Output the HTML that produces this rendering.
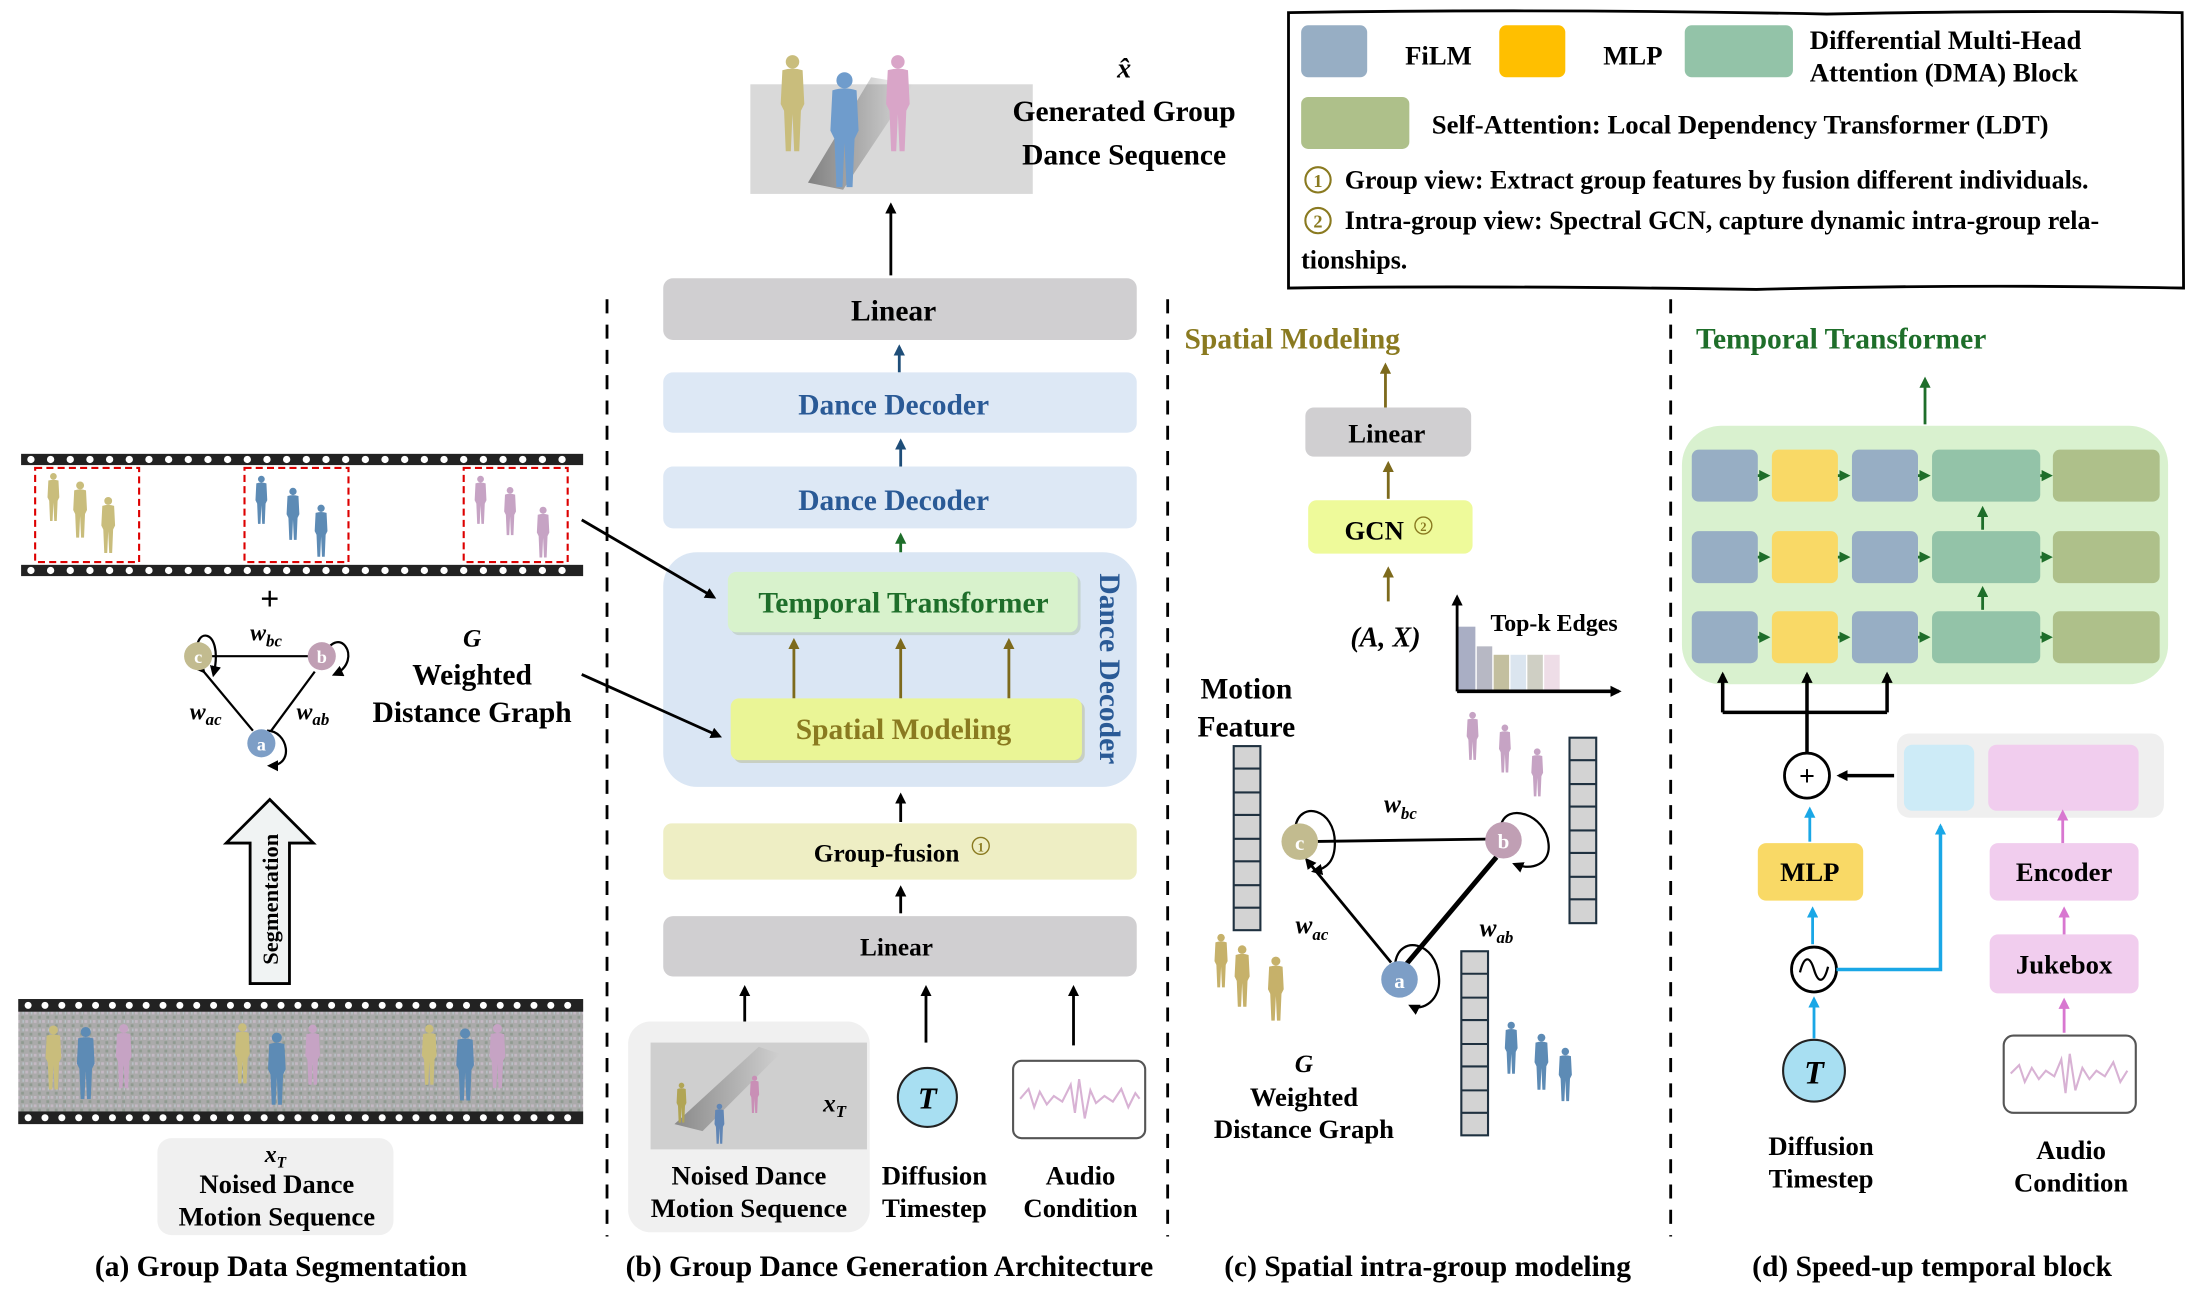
<!DOCTYPE html>
<html><head><meta charset="utf-8"><style>
html,body{margin:0;padding:0;background:#fff;}
svg{display:block;}
text{font-family:"Liberation Serif",serif;font-weight:bold;}
</style></head><body>
<svg width="2192" height="1292" viewBox="0 0 1560 919.5" xmlns="http://www.w3.org/2000/svg">
<defs>
<marker id="ak" markerWidth="8" markerHeight="8" refX="6" refY="4" orient="auto" markerUnits="userSpaceOnUse"><path d="M0,0 L8,4 L0,8 z" fill="#000"/></marker>
<marker id="ab" markerWidth="8" markerHeight="8" refX="6" refY="4" orient="auto" markerUnits="userSpaceOnUse"><path d="M0,0 L8,4 L0,8 z" fill="#1f4e79"/></marker>
<marker id="ag" markerWidth="8" markerHeight="8" refX="6" refY="4" orient="auto" markerUnits="userSpaceOnUse"><path d="M0,0 L8,4 L0,8 z" fill="#1e6e2a"/></marker>
<marker id="ao" markerWidth="8" markerHeight="8" refX="6" refY="4" orient="auto" markerUnits="userSpaceOnUse"><path d="M0,0 L8,4 L0,8 z" fill="#7d6a1c"/></marker>
<marker id="ac" markerWidth="8" markerHeight="8" refX="6" refY="4" orient="auto" markerUnits="userSpaceOnUse"><path d="M0,0 L8,4 L0,8 z" fill="#1aa7e6"/></marker>
<marker id="ap" markerWidth="8" markerHeight="8" refX="6" refY="4" orient="auto" markerUnits="userSpaceOnUse"><path d="M0,0 L8,4 L0,8 z" fill="#d877d0"/></marker>
<symbol id="fig" viewBox="0 0 20 60" overflow="visible">
<circle cx="10" cy="5" r="4"/><path d="M4,10 Q10,8 16,10 L17,30 L15,34 L14,58 L11,58 L10,36 L9,58 L6,58 L5,34 L3,30 z"/>
</symbol>
<pattern id="noise" width="6" height="6" patternUnits="userSpaceOnUse"><rect width="6" height="6" fill="#aaa"/><rect x="0" y="0" width="2" height="2" fill="#c4b9c4"/><rect x="3" y="3" width="2" height="2" fill="#8f9a90"/><rect x="4" y="0" width="1" height="2" fill="#b9c4c9"/></pattern>
<linearGradient id="sh" x1="0" y1="0" x2="1" y2="0"><stop offset="0" stop-color="#222" stop-opacity="0.8"/><stop offset="1" stop-color="#222" stop-opacity="0"/></linearGradient>
</defs>

<!-- Legend -->
<path d="M917,9 Q1100,6 1300,10 Q1450,7 1553,9 L1554,205 Q1400,202 1250,206 Q1050,203 917,205 z" fill="#fff" stroke="#000" stroke-width="2"/>
<rect x="926" y="18" width="47" height="37" rx="5" fill="#97aec4"/>
<text x="1000" y="46" font-size="19">FiLM</text>
<rect x="1067" y="18" width="47" height="37" rx="5" fill="#ffbf00"/>
<text x="1141" y="46" font-size="19">MLP</text>
<rect x="1199" y="18" width="77" height="37" rx="5" fill="#93c3a8"/>
<text x="1288" y="35" font-size="19">Differential Multi-Head</text>
<text x="1288" y="58" font-size="19">Attention (DMA) Block</text>
<rect x="926" y="69" width="77" height="37" rx="5" fill="#aec08a"/>
<text x="1019" y="95" font-size="19">Self-Attention: Local Dependency Transformer (LDT)</text>
<circle cx="938" cy="128" r="9" fill="none" stroke="#8a7a20" stroke-width="1.5"/><text x="938" y="133" font-size="13" fill="#8a7a20" text-anchor="middle" font-weight="normal">1</text>
<text x="957" y="134" font-size="18.5">Group view: Extract group features by fusion different individuals.</text>
<circle cx="938" cy="157" r="9" fill="none" stroke="#8a7a20" stroke-width="1.5"/><text x="938" y="162" font-size="13" fill="#8a7a20" text-anchor="middle" font-weight="normal">2</text>
<text x="957" y="163" font-size="18.5">Intra-group view: Spectral GCN, capture dynamic intra-group rela-</text>
<text x="926" y="191" font-size="18.5">tionships.</text>

<!-- dashed separators -->
<g stroke="#000" stroke-width="2" stroke-dasharray="10,8">
<line x1="432" y1="213" x2="432" y2="880"/>
<line x1="831" y1="213" x2="831" y2="880"/>
<line x1="1189" y1="213" x2="1189" y2="880"/>
</g>

<!-- captions -->
<g font-size="21" text-anchor="middle">
<text x="200" y="908">(a) Group Data Segmentation</text>
<text x="633" y="908">(b) Group Dance Generation Architecture</text>
<text x="1016" y="908">(c) Spatial intra-group modeling</text>
<text x="1375" y="908">(d) Speed-up temporal block</text>
</g>

<!-- ===== Panel (a) ===== -->
<rect x="15" y="323" width="400" height="8" fill="#222"/>
<rect x="15" y="402" width="400" height="8" fill="#222"/>
<g fill="#fff">
<g id="dots1">
<circle cx="22" cy="327" r="2.6"/><circle cx="36" cy="327" r="2.6"/><circle cx="50" cy="327" r="2.6"/><circle cx="64" cy="327" r="2.6"/><circle cx="78" cy="327" r="2.6"/><circle cx="92" cy="327" r="2.6"/><circle cx="106" cy="327" r="2.6"/><circle cx="120" cy="327" r="2.6"/><circle cx="134" cy="327" r="2.6"/><circle cx="148" cy="327" r="2.6"/><circle cx="162" cy="327" r="2.6"/><circle cx="176" cy="327" r="2.6"/><circle cx="190" cy="327" r="2.6"/><circle cx="204" cy="327" r="2.6"/><circle cx="218" cy="327" r="2.6"/><circle cx="232" cy="327" r="2.6"/><circle cx="246" cy="327" r="2.6"/><circle cx="260" cy="327" r="2.6"/><circle cx="274" cy="327" r="2.6"/><circle cx="288" cy="327" r="2.6"/><circle cx="302" cy="327" r="2.6"/><circle cx="316" cy="327" r="2.6"/><circle cx="330" cy="327" r="2.6"/><circle cx="344" cy="327" r="2.6"/><circle cx="358" cy="327" r="2.6"/><circle cx="372" cy="327" r="2.6"/><circle cx="386" cy="327" r="2.6"/><circle cx="400" cy="327" r="2.6"/>
</g>
<use href="#dots1" y="79"/>
</g>
<g fill="none" stroke="#d00" stroke-width="1.5" stroke-dasharray="5,3">
<rect x="25" y="333" width="74" height="67"/><rect x="174" y="333" width="74" height="67"/><rect x="330" y="333" width="74" height="67"/>
</g>
<g fill="#c9bd7c"><use href="#fig" x="32" y="336" width="12" height="36"/><use href="#fig" x="50" y="342" width="14" height="42"/><use href="#fig" x="70" y="352" width="14" height="44"/></g>
<g fill="#5d8bb5"><use href="#fig" x="180" y="336" width="12" height="40"/><use href="#fig" x="202" y="346" width="13" height="40"/><use href="#fig" x="222" y="358" width="13" height="40"/></g>
<g fill="#c6a3c4"><use href="#fig" x="336" y="338" width="12" height="36"/><use href="#fig" x="357" y="346" width="12" height="36"/><use href="#fig" x="380" y="360" width="13" height="38"/></g>
<text x="192" y="434" font-size="24" text-anchor="middle">+</text>
<!-- graph a -->
<g stroke="#000" stroke-width="1.6" fill="none">
<line x1="141" y1="467" x2="229" y2="467"/>
<line x1="145" y1="478" x2="180" y2="520" marker-start="url(#ak)"/>
<line x1="224" y1="478" x2="193" y2="520"/>
<path d="M141,470 C135,445 160,445 152,480" marker-end="url(#ak)"/>
<path d="M229,470 C240,440 260,470 238,480" marker-end="url(#ak)"/>
<path d="M190,520 C205,520 210,545 192,545" marker-end="url(#ak)"/>
</g>
<circle cx="141" cy="467" r="10" fill="#c2bb8f"/><text x="141" y="472" font-size="13" fill="#fff" text-anchor="middle" font-family="Liberation Sans">c</text>
<circle cx="229" cy="467" r="10" fill="#c09fb4"/><text x="229" y="472" font-size="13" fill="#fff" text-anchor="middle" font-family="Liberation Sans">b</text>
<circle cx="186" cy="529" r="10" fill="#7d9ec6"/><text x="186" y="534" font-size="13" fill="#fff" text-anchor="middle" font-family="Liberation Sans">a</text>
<g font-style="italic" font-weight="normal" font-size="17">
<text x="178" y="456">w<tspan font-size="12" dy="4">bc</tspan></text>
<text x="135" y="512">w<tspan font-size="12" dy="4">ac</tspan></text>
<text x="211" y="512">w<tspan font-size="12" dy="4">ab</tspan></text>
</g>
<text x="336" y="460" font-size="18" font-style="italic" font-weight="normal" text-anchor="middle">G</text>
<text x="336" y="487" font-size="21" text-anchor="middle">Weighted</text>
<text x="336" y="514" font-size="21" text-anchor="middle">Distance Graph</text>
<!-- segmentation arrow -->
<path d="M178,700 L178,600 L161,600 L192,569 L223,600 L206,600 L206,700 z" fill="#f0f3f3" stroke="#000" stroke-width="2"/>
<text transform="translate(198,640) rotate(-90)" font-size="16" text-anchor="middle">Segmentation</text>
<!-- bottom film -->
<rect x="13" y="711" width="402" height="89" fill="url(#noise)"/>
<rect x="13" y="711" width="402" height="9" fill="#222"/>
<rect x="13" y="791" width="402" height="9" fill="#222"/>
<g fill="#fff"><g id="dots2"><circle cx="20" cy="715.5" r="2.5"/><circle cx="32" cy="715.5" r="2.5"/><circle cx="44" cy="715.5" r="2.5"/><circle cx="56" cy="715.5" r="2.5"/><circle cx="68" cy="715.5" r="2.5"/><circle cx="80" cy="715.5" r="2.5"/><circle cx="92" cy="715.5" r="2.5"/><circle cx="104" cy="715.5" r="2.5"/><circle cx="116" cy="715.5" r="2.5"/><circle cx="128" cy="715.5" r="2.5"/><circle cx="140" cy="715.5" r="2.5"/><circle cx="152" cy="715.5" r="2.5"/><circle cx="164" cy="715.5" r="2.5"/><circle cx="176" cy="715.5" r="2.5"/><circle cx="188" cy="715.5" r="2.5"/><circle cx="200" cy="715.5" r="2.5"/><circle cx="212" cy="715.5" r="2.5"/><circle cx="224" cy="715.5" r="2.5"/><circle cx="236" cy="715.5" r="2.5"/><circle cx="248" cy="715.5" r="2.5"/><circle cx="260" cy="715.5" r="2.5"/><circle cx="272" cy="715.5" r="2.5"/><circle cx="284" cy="715.5" r="2.5"/><circle cx="296" cy="715.5" r="2.5"/><circle cx="308" cy="715.5" r="2.5"/><circle cx="320" cy="715.5" r="2.5"/><circle cx="332" cy="715.5" r="2.5"/><circle cx="344" cy="715.5" r="2.5"/><circle cx="356" cy="715.5" r="2.5"/><circle cx="368" cy="715.5" r="2.5"/><circle cx="380" cy="715.5" r="2.5"/><circle cx="392" cy="715.5" r="2.5"/><circle cx="404" cy="715.5" r="2.5"/></g><use href="#dots2" y="80"/></g>
<g fill="#c9bd7c"><use href="#fig" x="30" y="722" width="16" height="62"/><use href="#fig" x="165" y="724" width="15" height="52"/><use href="#fig" x="298" y="722" width="15" height="58"/></g>
<g fill="#5d8bb5"><use href="#fig" x="52" y="726" width="18" height="62"/><use href="#fig" x="188" y="732" width="18" height="58"/><use href="#fig" x="322" y="728" width="18" height="60"/></g>
<g fill="#c6a3c4"><use href="#fig" x="80" y="724" width="16" height="56"/><use href="#fig" x="215" y="726" width="15" height="50"/><use href="#fig" x="346" y="724" width="16" height="56"/></g>
<rect x="112" y="810" width="168" height="69" rx="10" fill="#f0f0f0"/>
<text x="196" y="827" font-size="17" font-style="italic" font-weight="normal" text-anchor="middle">x<tspan font-size="11" dy="4">T</tspan></text>
<text x="197" y="849" font-size="19" text-anchor="middle">Noised Dance</text>
<text x="197" y="872" font-size="19" text-anchor="middle">Motion Sequence</text>

<!-- ===== Panel (b) ===== -->
<rect x="534" y="60" width="201" height="78" fill="#d9d9d9"/>
<path d="M575,130 L620,55 L650,60 L600,135 z" fill="url(#sh)" opacity="0.6"/>
<g fill="#c9bd7c"><use href="#fig" x="550" y="38" width="28" height="72"/></g>
<g fill="#6f9ccc"><use href="#fig" x="585" y="50" width="32" height="86"/></g>
<g fill="#d9a5c8"><use href="#fig" x="625" y="38" width="28" height="72"/></g>
<text x="800" y="55" font-size="20" font-style="italic" font-weight="normal" text-anchor="middle">x̂</text>
<text x="800" y="86" font-size="21" text-anchor="middle">Generated Group</text>
<text x="800" y="117" font-size="21" text-anchor="middle">Dance Sequence</text>
<line x1="634" y1="196" x2="634" y2="146" stroke="#000" stroke-width="2" marker-end="url(#ak)"/>
<rect x="472" y="198" width="337" height="44" rx="7" fill="#d0cfd1"/>
<text x="636" y="228" font-size="21" text-anchor="middle">Linear</text>
<line x1="640" y1="265" x2="640" y2="247" stroke="#1f4e79" stroke-width="2" marker-end="url(#ab)"/>
<rect x="472" y="265" width="337" height="43" rx="7" fill="#dde8f5"/>
<text x="636" y="295" font-size="21" fill="#2a5a96" text-anchor="middle">Dance Decoder</text>
<line x1="641" y1="332" x2="641" y2="314" stroke="#1f4e79" stroke-width="2" marker-end="url(#ab)"/>
<rect x="472" y="332" width="337" height="44" rx="7" fill="#dde8f5"/>
<text x="636" y="363" font-size="21" fill="#2a5a96" text-anchor="middle">Dance Decoder</text>
<line x1="641" y1="395" x2="641" y2="381" stroke="#1e6e2a" stroke-width="2" marker-end="url(#ag)"/>
<rect x="472" y="393" width="337" height="167" rx="24" fill="#dae6f4"/>
<text transform="translate(783,476) rotate(90)" font-size="21" fill="#2a5a96" text-anchor="middle">Dance Decoder</text>
<rect x="520" y="409" width="249" height="43" rx="6" fill="#b8c8b8" opacity="0.6"/>
<rect x="518" y="407" width="249" height="43" rx="6" fill="#d8f2cc"/>
<text x="643" y="436" font-size="21" fill="#1e6e2a" text-anchor="middle">Temporal Transformer</text>
<g stroke="#7d6a1c" stroke-width="2"><line x1="565" y1="497" x2="565" y2="456" marker-end="url(#ao)"/><line x1="641" y1="497" x2="641" y2="456" marker-end="url(#ao)"/><line x1="718" y1="497" x2="718" y2="456" marker-end="url(#ao)"/></g>
<rect x="522" y="499" width="250" height="44" rx="6" fill="#bcc0a0" opacity="0.6"/>
<rect x="520" y="497" width="250" height="44" rx="6" fill="#eaf596"/>
<text x="643" y="526" font-size="21" fill="#8a7a20" text-anchor="middle">Spatial Modeling</text>
<line x1="641" y1="585" x2="641" y2="566" stroke="#000" stroke-width="2" marker-end="url(#ak)"/>
<rect x="472" y="586" width="337" height="40" rx="6" fill="#eeeec4"/>
<text x="631" y="613" font-size="18" text-anchor="middle">Group-fusion</text>
<circle cx="698" cy="602" r="6" fill="none" stroke="#8a7a20" stroke-width="1"/><text x="698" y="606" font-size="9" fill="#8a7a20" text-anchor="middle" font-weight="normal">1</text>
<line x1="641" y1="650" x2="641" y2="632" stroke="#000" stroke-width="2" marker-end="url(#ak)"/>
<rect x="472" y="652" width="337" height="43" rx="7" fill="#d0cfd1"/>
<text x="638" y="680" font-size="18" text-anchor="middle">Linear</text>
<g stroke="#000" stroke-width="2"><line x1="530" y1="740" x2="530" y2="703" marker-end="url(#ak)"/><line x1="659" y1="742" x2="659" y2="703" marker-end="url(#ak)"/><line x1="764" y1="744" x2="764" y2="703" marker-end="url(#ak)"/></g>
<rect x="447" y="727" width="172" height="150" rx="16" fill="#f0f0f0"/>
<rect x="463" y="742" width="154" height="76" fill="#cfcfcf"/>
<path d="M480,800 L540,745 L555,750 L500,805 z" fill="url(#sh)" opacity="0.5"/>
<g fill="#b1a555"><use href="#fig" x="478" y="770" width="14" height="30"/></g>
<g fill="#6186b5"><use href="#fig" x="505" y="785" width="14" height="30"/></g>
<g fill="#c98fb6"><use href="#fig" x="530" y="765" width="14" height="28"/></g>
<text x="594" y="791" font-size="18" font-style="italic" font-weight="normal" text-anchor="middle">x<tspan font-size="12" dy="4">T</tspan></text>
<circle cx="660" cy="781" r="21" fill="#a8dff2" stroke="#222" stroke-width="1.5"/>
<text x="660" y="789" font-size="22" font-style="italic" font-weight="normal" text-anchor="middle">T</text>
<rect x="721" y="755" width="94" height="55" rx="6" fill="#fff" stroke="#555" stroke-width="1.5"/>
<path d="M726,782 L732,775 L736,788 L740,777 L745,786 L750,780 L756,784 L762,772 L765,792 L768,768 L772,796 L776,776 L780,785 L786,780 L792,784 L798,775 L803,788 L808,778 L811,782" fill="none" stroke="#d8b2d4" stroke-width="1.5"/>
<g font-size="19" text-anchor="middle">
<text x="533" y="843">Noised Dance</text><text x="533" y="866">Motion Sequence</text>
<text x="665" y="843">Diffusion</text><text x="665" y="866">Timestep</text>
<text x="769" y="843">Audio</text><text x="769" y="866">Condition</text>
</g>
<g stroke="#000" stroke-width="2"><line x1="414" y1="370" x2="508" y2="425" marker-end="url(#ak)"/><line x1="414" y1="480" x2="512" y2="524" marker-end="url(#ak)"/></g>

<!-- ===== Panel (c) ===== -->
<text x="843" y="248" font-size="21" fill="#8a7a20">Spatial Modeling</text>
<g stroke="#7d6a1c" stroke-width="2">
<line x1="986" y1="290" x2="986" y2="260" marker-end="url(#ao)"/>
<line x1="988" y1="355" x2="988" y2="330" marker-end="url(#ao)"/>
<line x1="988" y1="428" x2="988" y2="405" marker-end="url(#ao)"/>
</g>
<rect x="929" y="290" width="118" height="35" rx="6" fill="#d0cfd1"/>
<text x="987" y="315" font-size="19" text-anchor="middle">Linear</text>
<rect x="931" y="356" width="117" height="38" rx="6" fill="#eefa9a"/>
<text x="978" y="384" font-size="19" text-anchor="middle">GCN</text>
<circle cx="1013" cy="374" r="6" fill="none" stroke="#8a7a20" stroke-width="1"/><text x="1013" y="378" font-size="9" fill="#8a7a20" text-anchor="middle" font-weight="normal">2</text>
<text x="986" y="460" font-size="20" font-style="italic" font-weight="normal" text-anchor="middle">(A, X)</text>
<rect x="1038" y="446" width="12" height="46" fill="#a9aec4"/>
<rect x="1051" y="460" width="11" height="32" fill="#b7b8c4"/>
<rect x="1063" y="466" width="11" height="26" fill="#c3bf9f"/>
<rect x="1075" y="466" width="11" height="26" fill="#dbe5ef"/>
<rect x="1087" y="466" width="11" height="26" fill="#cfcfc4"/>
<rect x="1099" y="466" width="11" height="26" fill="#eedde7"/>
<path d="M1037,492 L1037,425" stroke="#000" stroke-width="2" marker-end="url(#ak)"/>
<path d="M1037,492 L1152,492" stroke="#000" stroke-width="2.5" marker-end="url(#ak)"/>
<text x="1106" y="449" font-size="17" text-anchor="middle">Top-k Edges</text>
<text x="887" y="497" font-size="21" text-anchor="middle">Motion</text>
<text x="887" y="524" font-size="21" text-anchor="middle">Feature</text>
<g fill="#d3d3d3" stroke="#1f3140" stroke-width="1.5">
<rect x="878" y="531" width="19" height="131"/>
<rect x="1117" y="525" width="19" height="132"/>
<rect x="1040" y="677" width="19" height="131"/>
</g>
<g stroke="#1f3140" stroke-width="1.5">
<line x1="878" y1="547" x2="897" y2="547"/><line x1="878" y1="564" x2="897" y2="564"/><line x1="878" y1="580" x2="897" y2="580"/><line x1="878" y1="597" x2="897" y2="597"/><line x1="878" y1="613" x2="897" y2="613"/><line x1="878" y1="630" x2="897" y2="630"/><line x1="878" y1="646" x2="897" y2="646"/>
<line x1="1117" y1="541" x2="1136" y2="541"/><line x1="1117" y1="558" x2="1136" y2="558"/><line x1="1117" y1="574" x2="1136" y2="574"/><line x1="1117" y1="591" x2="1136" y2="591"/><line x1="1117" y1="607" x2="1136" y2="607"/><line x1="1117" y1="624" x2="1136" y2="624"/><line x1="1117" y1="640" x2="1136" y2="640"/>
<line x1="1040" y1="693" x2="1059" y2="693"/><line x1="1040" y1="710" x2="1059" y2="710"/><line x1="1040" y1="726" x2="1059" y2="726"/><line x1="1040" y1="743" x2="1059" y2="743"/><line x1="1040" y1="759" x2="1059" y2="759"/><line x1="1040" y1="776" x2="1059" y2="776"/><line x1="1040" y1="792" x2="1059" y2="792"/>
</g>
<g stroke="#000" fill="none">
<line x1="925" y1="599" x2="1070" y2="597" stroke-width="2"/>
<line x1="990" y1="685" x2="930" y2="612" stroke-width="2" marker-end="url(#ak)"/>
<line x1="1001" y1="686" x2="1065" y2="610" stroke-width="3.5"/>
<path d="M922,588 C925,570 950,575 950,600 C950,612 945,618 935,620" stroke-width="1.6" marker-end="url(#ak)"/>
<path d="M1068,588 C1072,570 1100,580 1102,600 C1104,615 1090,620 1078,615" stroke-width="1.6" marker-end="url(#ak)"/>
<path d="M993,685 C996,665 1022,670 1024,695 C1026,712 1012,720 1004,716" stroke-width="1.6" marker-end="url(#ak)"/>
</g>
<circle cx="925" cy="599" r="13" fill="#c2bb8f"/><text x="925" y="605" font-size="15" fill="#fff" text-anchor="middle" font-family="Liberation Sans" font-weight="normal">c</text>
<circle cx="1070" cy="598" r="13" fill="#c09fb4"/><text x="1070" y="604" font-size="15" fill="#fff" text-anchor="middle" font-family="Liberation Sans" font-weight="normal">b</text>
<circle cx="996" cy="697" r="13" fill="#7d9ec6"/><text x="996" y="703" font-size="15" fill="#fff" text-anchor="middle" font-family="Liberation Sans" font-weight="normal">a</text>
<g font-style="italic" font-size="18">
<text x="985" y="578">w<tspan font-size="12" dy="5">bc</tspan></text>
<text x="922" y="664">w<tspan font-size="12" dy="5">ac</tspan></text>
<text x="1053" y="666">w<tspan font-size="12" dy="5">ab</tspan></text>
</g>
<g fill="#c6b16a"><use href="#fig" x="862" y="664" width="14" height="40"/><use href="#fig" x="876" y="672" width="16" height="46"/><use href="#fig" x="900" y="680" width="16" height="48"/></g>
<g fill="#c6a3c4"><use href="#fig" x="1042" y="505" width="12" height="38"/><use href="#fig" x="1065" y="512" width="12" height="42"/><use href="#fig" x="1088" y="530" width="12" height="40"/></g>
<g fill="#5d8bb5"><use href="#fig" x="1069" y="725" width="13" height="42"/><use href="#fig" x="1090" y="735" width="14" height="42"/><use href="#fig" x="1107" y="745" width="14" height="40"/></g>
<text x="928" y="763" font-size="18" font-style="italic" font-weight="normal" text-anchor="middle">G</text>
<text x="928" y="787" font-size="19" text-anchor="middle">Weighted</text>
<text x="928" y="810" font-size="19" text-anchor="middle">Distance Graph</text>

<!-- ===== Panel (d) ===== -->
<text x="1207" y="248" font-size="21" fill="#1e6e2a">Temporal Transformer</text>
<line x1="1370" y1="302" x2="1370" y2="270" stroke="#1e6e2a" stroke-width="2" marker-end="url(#ag)"/>
<rect x="1197" y="303" width="346" height="184" rx="28" fill="#d9f1cf"/>
<g id="row">
<rect x="1204" y="320" width="47" height="37" rx="5" fill="#97aec4"/>
<rect x="1261" y="320" width="47" height="37" rx="5" fill="#f9d966"/>
<rect x="1318" y="320" width="47" height="37" rx="5" fill="#97aec4"/>
<rect x="1375" y="320" width="77" height="37" rx="5" fill="#93c3a8"/>
<rect x="1461" y="320" width="76" height="37" rx="5" fill="#aec08a"/>
<g stroke="#1e6e2a" stroke-width="2"><line x1="1251" y1="338.5" x2="1258" y2="338.5" marker-end="url(#ag)"/><line x1="1308" y1="338.5" x2="1315" y2="338.5" marker-end="url(#ag)"/><line x1="1365" y1="338.5" x2="1372" y2="338.5" marker-end="url(#ag)"/><line x1="1452" y1="338.5" x2="1459" y2="338.5" marker-end="url(#ag)"/></g>
</g>
<use href="#row" y="58"/>
<use href="#row" y="115"/>
<g stroke="#1e6e2a" stroke-width="2"><line x1="1411" y1="377" x2="1411" y2="362" marker-end="url(#ag)"/><line x1="1411" y1="434" x2="1411" y2="419" marker-end="url(#ag)"/></g>
<g stroke="#000" stroke-width="2.5" fill="none">
<path d="M1226,507 L1343,507"/>
<line x1="1226" y1="507" x2="1226" y2="480" marker-end="url(#ak)"/>
<line x1="1286" y1="536" x2="1286" y2="480" marker-end="url(#ak)"/>
<line x1="1343" y1="507" x2="1343" y2="480" marker-end="url(#ak)"/>
<line x1="1348" y1="552" x2="1309" y2="552" marker-end="url(#ak)"/>
</g>
<circle cx="1286" cy="552" r="16" fill="#fff" stroke="#000" stroke-width="2"/>
<text x="1286" y="559" font-size="20" text-anchor="middle" font-weight="normal">+</text>
<rect x="1350" y="522" width="190" height="60" rx="9" fill="#efefef"/>
<rect x="1355" y="530" width="50" height="47" rx="6" fill="#cdebf7"/>
<rect x="1415" y="530" width="107" height="47" rx="6" fill="#f1cdee"/>
<rect x="1251" y="600" width="75" height="41" rx="6" fill="#f9d966"/>
<text x="1288" y="627" font-size="19" text-anchor="middle">MLP</text>
<rect x="1416" y="600" width="106" height="41" rx="6" fill="#f1cdee"/>
<text x="1469" y="627" font-size="19" text-anchor="middle">Encoder</text>
<rect x="1416" y="665" width="106" height="42" rx="6" fill="#f1cdee"/>
<text x="1469" y="693" font-size="19" text-anchor="middle">Jukebox</text>
<circle cx="1291" cy="690" r="16" fill="#fff" stroke="#000" stroke-width="2"/>
<path d="M1281,692 C1284,680 1288,680 1291,690 C1294,700 1298,700 1301,688" fill="none" stroke="#000" stroke-width="1.6"/>
<circle cx="1291" cy="762" r="22" fill="#a8dff2" stroke="#222" stroke-width="1.5"/>
<text x="1291" y="771" font-size="23" font-style="italic" font-weight="normal" text-anchor="middle">T</text>
<rect x="1426" y="737" width="94" height="55" rx="7" fill="#fff" stroke="#555" stroke-width="1.5"/>
<path d="M1431,764 L1437,758 L1441,770 L1446,760 L1451,768 L1456,762 L1462,766 L1467,754 L1470,778 L1473,750 L1477,776 L1482,760 L1487,768 L1492,762 L1498,766 L1504,756 L1509,770 L1514,762" fill="none" stroke="#d8b2d4" stroke-width="1.5"/>
<g stroke="#1aa7e6" stroke-width="2" fill="none">
<line x1="1288" y1="599" x2="1288" y2="576" marker-end="url(#ac)"/>
<line x1="1290" y1="672" x2="1290" y2="647" marker-end="url(#ac)"/>
<line x1="1291" y1="739" x2="1291" y2="711" marker-end="url(#ac)"/>
<path d="M1307,690 L1381,690 L1381,588" stroke-width="2.5" marker-end="url(#ac)"/>
</g>
<g stroke="#d877d0" stroke-width="2">
<line x1="1468" y1="600" x2="1468" y2="578" marker-end="url(#ap)"/>
<line x1="1469" y1="665" x2="1469" y2="647" marker-end="url(#ap)"/>
<line x1="1469" y1="735" x2="1469" y2="712" marker-end="url(#ap)"/>
</g>
<g font-size="19" text-anchor="middle">
<text x="1296" y="822">Diffusion</text><text x="1296" y="845">Timestep</text>
<text x="1474" y="825">Audio</text><text x="1474" y="848">Condition</text>
</g>
</svg>
</body></html>
